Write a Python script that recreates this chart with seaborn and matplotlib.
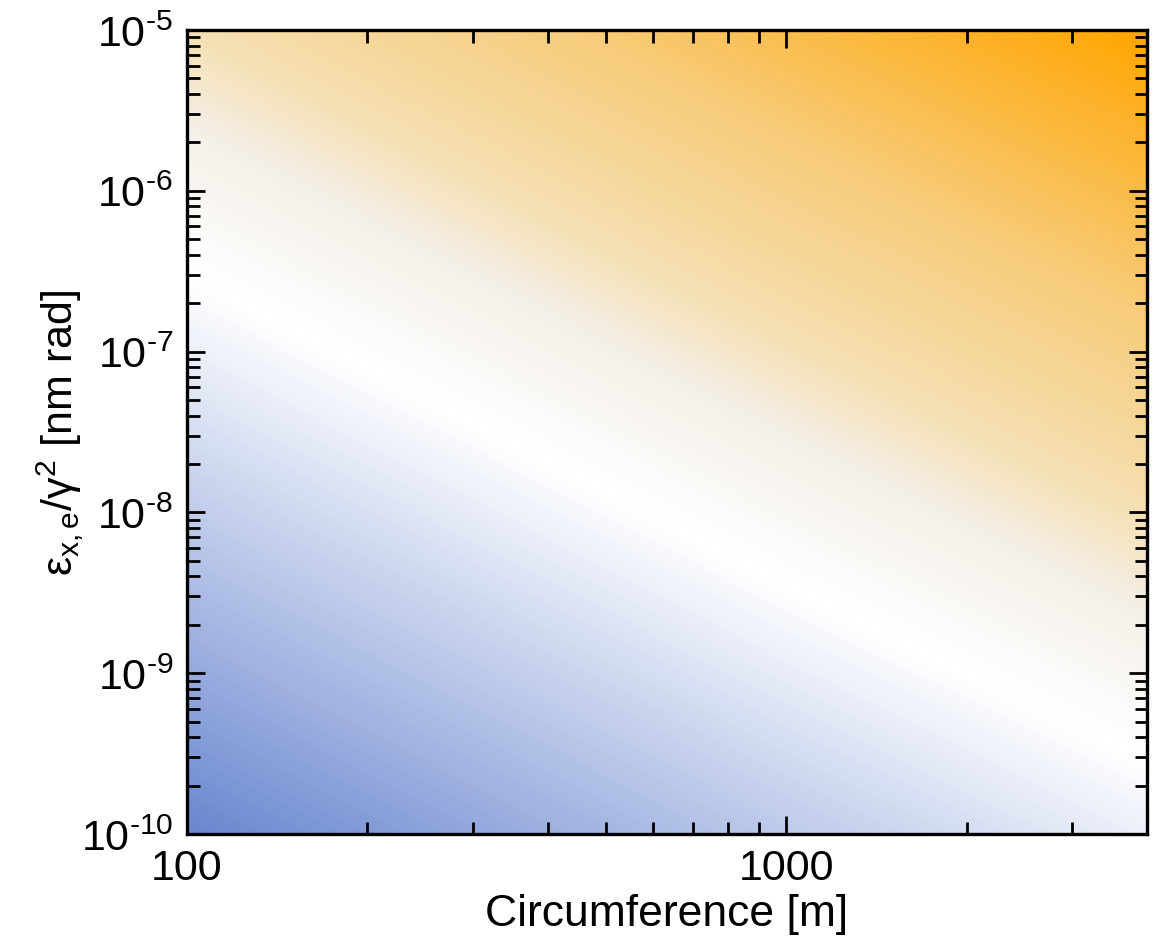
import numpy as np
import matplotlib
matplotlib.use("Agg")
import matplotlib.pyplot as plt
from matplotlib.colors import LinearSegmentedColormap
from matplotlib.ticker import FixedLocator, FuncFormatter
import seaborn as sns

# ============================
# Data
# ============================
circumference = [100, 1000, 4000]                      # m
emittance = [1e-10, 1e-9, 1e-8, 1e-7, 1e-6, 1e-5]        # nm rad
# colour level: decades above (+, orange) / below (-, blue) the white band
level = [
    [-3.48, -1.55, -0.45],
    [-2.48, -0.55, 0.55],
    [-1.48, 0.45, 1.55],
    [-0.48, 1.45, 2.55],
    [0.52, 2.45, 3.55],
    [1.52, 3.45, 4.55],
]
x_ticks = [100, 1000]
y_ticks = [1e-10, 1e-9, 1e-8, 1e-7, 1e-6, 1e-5]

# ============================
# Style
# ============================
sns.set_style("ticks")
plt.rcParams["font.family"] = ["Liberation Sans", "DejaVu Sans"]
plt.rcParams["mathtext.fontset"] = "custom"
plt.rcParams["mathtext.rm"] = "Liberation Sans"
plt.rcParams["mathtext.it"] = "Liberation Sans"
plt.rcParams["mathtext.sf"] = "Liberation Sans"
plt.rcParams["axes.labelcolor"] = "black"
plt.rcParams["text.color"] = "black"

cmap = LinearSegmentedColormap.from_list("bwo", [
    (0.0, "#3b61c0"),
    (0.5, "#ffffff"),
    (0.6, "#f4f0e9"),
    (0.67, "#f5dfb2"),
    (0.81, "#f7cb78"),
    (1.0, "#ffa500"),
])

fig = plt.figure(figsize=(11.59, 9.45), dpi=100)
ax = fig.add_axes([0.1613, 0.1164, 0.8283, 0.8508])
ax.set_axisbelow(False)

# field drawn in log10 space so the library interpolates along straight bands
lx = np.log10(circumference)
ly = np.log10(emittance)
X, Y = np.meshgrid(lx, ly)
ax.contourf(X, Y, np.array(level), levels=np.linspace(-4.55, 4.55, 400),
            cmap=cmap, vmin=-4.55, vmax=4.55, antialiased=False, zorder=0)

ax.set_xlim(np.log10(100), np.log10(4000))
ax.set_ylim(-10, -5)

# log-style ticks on the log10 axes
x_minor = [np.log10(k * 10.0 ** d) for d in (2, 3) for k in range(2, 10)
           if k * 10.0 ** d < 4000]
y_minor = [np.log10(k * 10.0 ** d) for d in range(-10, -5) for k in range(2, 10)]
ax.xaxis.set_major_locator(FixedLocator(np.log10(x_ticks)))
ax.xaxis.set_minor_locator(FixedLocator(x_minor))
ax.xaxis.set_major_formatter(FuncFormatter(lambda v, p: f"{10 ** v:.0f}"))
ax.yaxis.set_major_locator(FixedLocator(np.log10(y_ticks)))
ax.yaxis.set_minor_locator(FixedLocator(y_minor))
ax.yaxis.set_major_formatter(
    FuncFormatter(lambda v, p: r"$10^{\text{-}%d}$" % abs(round(v))))

ax.tick_params(which="both", direction="in", top=True, right=True,
               labelsize=31, width=2.0, colors="black")
ax.tick_params(which="major", length=13, pad=10)
ax.tick_params(which="minor", length=9)
for s in ax.spines.values():
    s.set_linewidth(2.4)
    s.set_color("black")
    s.set_zorder(3)

ax.set_xlabel("Circumference [m]", fontsize=32, labelpad=4, color="black")
ax.set_ylabel(r"$\mathrm{ε_{x,e}/γ^{2}}$ [nm rad]", fontsize=31, color="black")
ax.yaxis.set_label_coords(-0.105, 0.5)

fig.savefig("out.png", dpi=100)
